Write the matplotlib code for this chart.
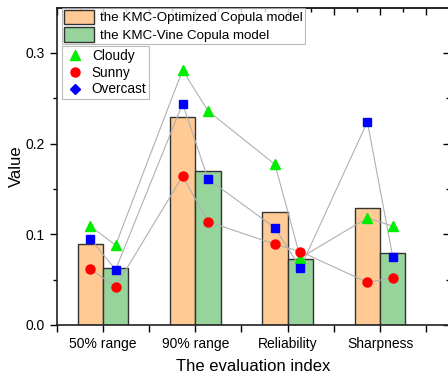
import numpy as np
import matplotlib
matplotlib.use("Agg")
import matplotlib.pyplot as plt
from matplotlib.lines import Line2D
from matplotlib.patches import Patch

plt.rcParams["font.family"] = ["Liberation Sans", "DejaVu Sans"]

categories = ["50% range", "90% range", "Reliability", "Sharpness"]
optimized = [0.089, 0.229, 0.125, 0.129]
vine = [0.063, 0.170, 0.073, 0.079]

# points at the centre of each bar (optimized, vine) for every category
cloudy = [0.109, 0.088, 0.281, 0.236, 0.177, 0.074, 0.118, 0.109]
sunny = [0.062, 0.042, 0.164, 0.114, 0.089, 0.081, 0.047, 0.052]
overcast = [0.095, 0.061, 0.244, 0.161, 0.107, 0.063, 0.224, 0.075]

fig = plt.figure(figsize=(4.48, 3.77), dpi=100)
ax = fig.add_axes([0.1266, 0.138, 0.8785, 0.842])

x = np.arange(1, len(categories) + 1)
w = 0.275
ax.bar(x - w / 2, optimized, w, color="#FFCA94", edgecolor="#333333", linewidth=1.0, zorder=2)
ax.bar(x + w / 2, vine, w, color="#96D49C", edgecolor="#333333", linewidth=1.0, zorder=2)

px = np.ravel(np.column_stack([x - w / 2, x + w / 2]))
ax.plot(px, cloudy, color="#b0b0b0", lw=0.8, zorder=3)
ax.plot(px, sunny, color="#b0b0b0", lw=0.8, zorder=3)
ax.plot(px, overcast, color="#b0b0b0", lw=0.8, zorder=3)
ax.plot(px, cloudy, ls="none", marker="^", ms=7, color="#00EE00", zorder=4)
ax.plot(px, sunny, ls="none", marker="o", ms=6.5, color="#FF0000", zorder=4)
ax.plot(px, overcast, ls="none", marker="s", ms=6, color="#0000FF", zorder=4)

ax.set_xlim(0.5, 4.76)
ax.set_ylim(0, 0.35)
ax.set_xticks(x)
ax.set_xticklabels(categories, fontsize=10)
ax.set_xticks(np.arange(0.5, 4.75, 0.5), minor=True)
ax.set_yticks([0.0, 0.1, 0.2, 0.3])
ax.set_yticklabels(["0.0", "0.1", "0.2", "0.3"], fontsize=10)
ax.set_yticks(np.arange(0.05, 0.35, 0.1), minor=True)
ax.tick_params(axis="both", which="major", direction="out", length=5, width=1)
ax.tick_params(axis="both", which="minor", direction="out", length=3, width=1)
ax.tick_params(axis="x", which="both", length=5)

# inward ticks on top and right, Origin style
top = ax.secondary_xaxis("top")
top.set_xticks(np.arange(0.5, 4.75, 0.5))
top.set_xticks(np.arange(0.75, 4.75, 0.5), minor=True)
top.tick_params(which="major", direction="in", length=5, width=1, labeltop=False)
top.tick_params(which="minor", direction="in", length=3, width=1)
right = ax.secondary_yaxis("right")
right.set_yticks([0.0, 0.1, 0.2, 0.3])
right.set_yticks(np.arange(0.05, 0.35, 0.1), minor=True)
right.tick_params(which="major", direction="in", length=5, width=1, labelright=False)
right.tick_params(which="minor", direction="in", length=3, width=1)

for s in list(ax.spines.values()) + [top.spines["top"], right.spines["right"]]:
    s.set_color("#222222")
    s.set_linewidth(1.2)

ax.set_xlabel("The evaluation index", fontsize=12, labelpad=6)
ax.set_ylabel("Value", fontsize=12, labelpad=1)

h1 = [Patch(facecolor="#FFCA94", edgecolor="#333333", label="the KMC-Optimized Copula model"),
      Patch(facecolor="#96D49C", edgecolor="#333333", label="the KMC-Vine Copula model")]
leg1 = ax.legend(handles=h1, loc="upper left", bbox_to_anchor=(0.013, 1.0), fontsize=9.6,
                 frameon=True, fancybox=False, edgecolor="#aaaaaa", borderpad=0.15,
                 labelspacing=0.25, handlelength=2.3, handleheight=1.25, handletextpad=0.4,
                 borderaxespad=0)
leg1.get_frame().set_linewidth(0.8)
ax.add_artist(leg1)

h2 = [Line2D([], [], ls="none", marker="^", ms=7, color="#00EE00", label="Cloudy"),
      Line2D([], [], ls="none", marker="o", ms=6.5, color="#FF0000", label="Sunny"),
      Line2D([], [], ls="none", marker="D", ms=5.5, color="#0000FF", label="Overcast")]
leg2 = ax.legend(handles=h2, loc="upper left", bbox_to_anchor=(0.013, 0.878), fontsize=9.8,
                 frameon=True, fancybox=False, edgecolor="#aaaaaa", borderpad=0.2,
                 labelspacing=0.2, handlelength=1.6, handletextpad=0.4, borderaxespad=0)
leg2.get_frame().set_linewidth(0.8)

fig.savefig("out.png", dpi=100)
